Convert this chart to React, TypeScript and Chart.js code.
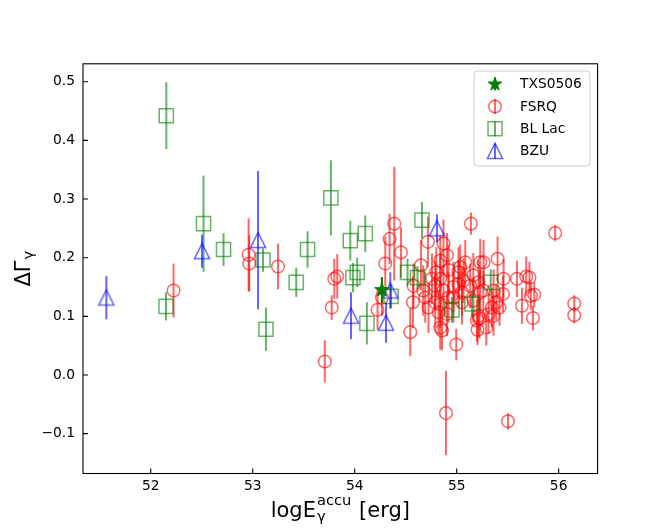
import React, { useEffect, useRef } from 'react';
import { Chart, registerables } from 'chart.js';

Chart.register(...registerables);

// ---------- data ----------
const xTickValues = [52, 53, 54, 55, 56];
const yTickValues = [-0.1, 0.0, 0.1, 0.2, 0.3, 0.4, 0.5];
const legendLabels = ['TXS0506', 'FSRQ', 'BL Lac', 'BZU'];

const txsX = [54.267];
const txsY = [0.145];
const txsErr = [0.022];

const fsrqX = [
  52.224, 52.960, 52.966, 53.248, 53.800, 53.829, 53.775, 53.707, 54.388, 54.342,
  54.454, 54.300, 54.267, 54.224, 54.545, 54.577, 54.571, 54.650, 54.718, 54.871,
  54.905, 54.839, 54.800, 54.758, 54.692, 54.724, 54.839, 54.856, 54.996, 54.905,
  54.969, 54.895, 55.503, 55.140, 55.966, 55.264, 55.401, 55.084, 55.035, 55.460,
  55.591, 55.682, 55.714, 55.454, 55.420, 55.388, 55.640, 55.728, 55.761, 55.748,
  56.153, 56.153, 55.290, 55.205, 55.224, 55.313, 55.346,
  54.790, 54.969, 55.067, 55.133, 55.214, 54.871, 55.052, 55.165, 54.822, 54.920,
  55.018, 55.261, 54.672, 55.163,
  55.231, 54.839, 55.018, 54.920, 55.052, 55.231, 55.362, 54.790, 55.214, 55.362,
  54.839, 55.199,
];
const fsrqY = [
  0.144, 0.205, 0.190, 0.185, 0.164, 0.168, 0.115, 0.023, 0.258, 0.232,
  0.209, 0.190, 0.132, 0.111, 0.073, 0.152, 0.124, 0.187, 0.227, 0.224,
  0.204, 0.195, 0.175, 0.164, 0.132, 0.115, 0.121, 0.076, 0.052, 0.104,
  0.150, -0.065, -0.079, 0.258, 0.242, 0.192, 0.198, 0.192, 0.184, 0.164,
  0.164, 0.168, 0.166, 0.138, 0.115, 0.124, 0.118, 0.135, 0.137, 0.097,
  0.122, 0.102, 0.081, 0.077, 0.096, 0.104, 0.115,
  0.152, 0.132, 0.161, 0.152, 0.158, 0.144, 0.124, 0.127, 0.107, 0.179,
  0.175, 0.144, 0.144, 0.170,
  0.192, 0.164, 0.155, 0.132, 0.141, 0.141, 0.144, 0.124, 0.101, 0.101,
  0.081, 0.093,
];
const fsrqErr = [
  0.046, 0.062, 0.048, 0.039, 0.034, 0.038, 0.021, 0.036, 0.097, 0.043,
  0.043, 0.046, 0.031, 0.034, 0.041, 0.038, 0.044, 0.043, 0.043, 0.041,
  0.038, 0.043, 0.043, 0.043, 0.043, 0.043, 0.041, 0.034, 0.027, 0.038,
  0.043, 0.072, 0.014, 0.019, 0.014, 0.038, 0.038, 0.038, 0.038, 0.034,
  0.031, 0.034, 0.027, 0.031, 0.031, 0.031, 0.031, 0.024, 0.021, 0.021,
  0.014, 0.014, 0.031, 0.026, 0.034, 0.034, 0.034,
  0.043, 0.043, 0.038, 0.038, 0.038, 0.043, 0.038, 0.038, 0.038, 0.043,
  0.043, 0.034, 0.043, 0.038,
  0.040, 0.043, 0.040, 0.043, 0.040, 0.038, 0.036, 0.043, 0.036, 0.034,
  0.038, 0.036,
];

const bllacX = [
  52.153, 52.518, 52.714, 52.150, 53.101, 53.130, 53.427, 53.538, 53.767, 53.957,
  54.104, 53.983, 54.025, 54.120, 54.356, 54.660, 54.518, 54.616, 54.954, 55.334, 55.150,
];
const bllacY = [
  0.442, 0.258, 0.214, 0.117, 0.196, 0.078, 0.158, 0.214, 0.302, 0.229,
  0.241, 0.166, 0.175, 0.088, 0.134, 0.264, 0.175, 0.166, 0.111, 0.158, 0.121,
];
const bllacErr = [
  0.057, 0.082, 0.028, 0.024, 0.020, 0.037, 0.025, 0.031, 0.064, 0.034,
  0.031, 0.025, 0.025, 0.036, 0.020, 0.031, 0.023, 0.020, 0.022, 0.022, 0.022,
];

const bzuX = [51.565, 52.503, 53.052, 53.964, 54.307, 54.349, 54.807];
const bzuY = [0.132, 0.211, 0.230, 0.101, 0.089, 0.144, 0.250];
const bzuErr = [0.037, 0.028, 0.118, 0.040, 0.034, 0.031, 0.024];

// ---------- styles ----------
const RED = 'rgba(255,0,0,0.6)';
const GREEN = 'rgba(0,128,0,0.6)';
const BLUE = 'rgba(0,0,255,0.6)';
const STAR = '#008000';
const FONT = '"DejaVu Sans", "Liberation Sans", sans-serif';

function toPoints(xs: number[], ys: number[]) {
  return xs.map((x, i) => ({ x, y: ys[i] }));
}

function trianglePath(g: CanvasRenderingContext2D, cx: number, cy: number, h: number) {
  g.beginPath();
  g.moveTo(cx, cy - h);
  g.lineTo(cx - h, cy + h);
  g.lineTo(cx + h, cy + h);
  g.closePath();
}

function starPath(g: CanvasRenderingContext2D, cx: number, cy: number, R: number) {
  g.beginPath();
  for (let i = 0; i < 10; i++) {
    const a = -Math.PI / 2 + (i * Math.PI) / 5;
    const r = i % 2 === 0 ? R : R * 0.382;
    const px = cx + r * Math.cos(a);
    const py = cy + r * Math.sin(a);
    if (i === 0) g.moveTo(px, py);
    else g.lineTo(px, py);
  }
  g.closePath();
}

function makeTriangle(): HTMLCanvasElement {
  const c = document.createElement('canvas');
  c.width = 20;
  c.height = 20;
  const g = c.getContext('2d')!;
  g.strokeStyle = BLUE;
  g.lineWidth = 1.5;
  trianglePath(g, 10, 10, 7.6);
  g.stroke();
  return c;
}

function makeStar(): HTMLCanvasElement {
  const c = document.createElement('canvas');
  c.width = 20;
  c.height = 20;
  const g = c.getContext('2d')!;
  g.fillStyle = STAR;
  g.strokeStyle = STAR;
  g.lineWidth = 1;
  starPath(g, 10, 10, 7.6);
  g.fill();
  g.stroke();
  return c;
}

const decorPlugin = {
  id: 'decor',
  beforeDatasetDraw(chart: any, args: any) {
    const ds = chart.data.datasets[args.index];
    const errs: number[] | undefined = ds.errY;
    if (!errs) return;
    const ctx: CanvasRenderingContext2D = chart.ctx;
    const xs = chart.scales.x;
    const ys = chart.scales.y;
    ctx.save();
    ctx.strokeStyle = ds.barColor;
    ctx.lineWidth = 2;
    ds.data.forEach((p: any, i: number) => {
      const px = xs.getPixelForValue(p.x);
      const y1 = ys.getPixelForValue(p.y - errs[i]);
      const y2 = ys.getPixelForValue(p.y + errs[i]);
      ctx.beginPath();
      ctx.moveTo(px, y1);
      ctx.lineTo(px, y2);
      ctx.stroke();
    });
    ctx.restore();
  },
  afterDraw(chart: any) {
    const ctx: CanvasRenderingContext2D = chart.ctx;
    const a = chart.chartArea;
    const xs = chart.scales.x;
    const ys = chart.scales.y;
    ctx.save();
    // frame
    ctx.strokeStyle = '#000';
    ctx.lineWidth = 1.1;
    ctx.strokeRect(a.left, a.top, a.right - a.left, a.bottom - a.top);
    // inward ticks
    ctx.beginPath();
    xTickValues.forEach((v) => {
      const px = xs.getPixelForValue(v);
      ctx.moveTo(px, a.bottom);
      ctx.lineTo(px, a.bottom - 5);
    });
    yTickValues.forEach((v) => {
      const py = ys.getPixelForValue(v);
      ctx.moveTo(a.left, py);
      ctx.lineTo(a.left + 5, py);
    });
    ctx.stroke();

    // x axis title: logE_γ^accu [erg]
    ctx.fillStyle = '#000';
    const big = `21px ${FONT}`;
    const small = `14.7px ${FONT}`;
    ctx.textBaseline = 'alphabetic';
    ctx.textAlign = 'left';
    ctx.font = big;
    const wMain = ctx.measureText('logE').width;
    const wRest = ctx.measureText(' [erg]').width;
    ctx.font = small;
    const wSup = ctx.measureText('accu').width;
    const wSub = ctx.measureText('γ').width;
    const wScript = Math.max(wSup, wSub) + 1;
    const total = wMain + 1 + wScript + wRest;
    const cx = (a.left + a.right) / 2;
    let x0 = cx - total / 2;
    const base = 517;
    ctx.font = big;
    ctx.fillText('logE', x0, base);
    x0 += wMain + 1;
    ctx.font = small;
    ctx.fillText('accu', x0, base - 12);
    ctx.fillText('γ', x0, base + 4);
    x0 += wScript;
    ctx.font = big;
    ctx.fillText(' [erg]', x0, base);

    // y axis title: ΔΓ_γ
    ctx.save();
    const cy = (a.top + a.bottom) / 2;
    ctx.translate(30, cy);
    ctx.rotate(-Math.PI / 2);
    ctx.font = big;
    const wD = ctx.measureText('ΔΓ').width;
    ctx.font = small;
    const wG = ctx.measureText('γ').width;
    const tot2 = wD + 1 + wG;
    ctx.font = big;
    ctx.fillText('ΔΓ', -tot2 / 2, 0);
    ctx.font = small;
    ctx.fillText('γ', -tot2 / 2 + wD + 1, 3);
    ctx.restore();

    // legend
    const lx = 474;
    const ly = 71;
    const lw = 116;
    const lh = 95;
    ctx.beginPath();
    if ((ctx as any).roundRect) (ctx as any).roundRect(lx, ly, lw, lh, 3);
    else ctx.rect(lx, ly, lw, lh);
    ctx.fillStyle = 'rgba(255,255,255,0.8)';
    ctx.fill();
    ctx.strokeStyle = '#cccccc';
    ctx.lineWidth = 1;
    ctx.stroke();

    const mx = 495;
    legendLabels.forEach((label, i) => {
      const ry = 84.3 + i * 22.2;
      ctx.save();
      if (i === 0) {
        ctx.fillStyle = STAR;
        ctx.strokeStyle = STAR;
        ctx.lineWidth = 2;
        ctx.beginPath();
        ctx.moveTo(mx, ry - 6);
        ctx.lineTo(mx, ry + 6);
        ctx.stroke();
        ctx.lineWidth = 1;
        starPath(ctx, mx, ry, 7.2);
        ctx.fill();
        ctx.stroke();
      } else {
        const col = i === 1 ? RED : i === 2 ? GREEN : BLUE;
        ctx.strokeStyle = col;
        ctx.lineWidth = 2;
        ctx.beginPath();
        ctx.moveTo(mx, ry - 7.5);
        ctx.lineTo(mx, ry + 7.5);
        ctx.stroke();
        ctx.lineWidth = 1.5;
        if (i === 1) {
          ctx.beginPath();
          ctx.arc(mx, ry, 6.2, 0, Math.PI * 2);
          ctx.stroke();
        } else if (i === 2) {
          ctx.strokeRect(mx - 7, ry - 7, 14, 14);
        } else {
          trianglePath(ctx, mx, ry, 7.6);
          ctx.stroke();
        }
      }
      ctx.restore();
      ctx.fillStyle = '#000';
      ctx.font = `13.8px ${FONT}`;
      ctx.textBaseline = 'middle';
      ctx.textAlign = 'left';
      ctx.fillText(label, 520, ry + 0.5);
    });
    ctx.restore();
  },
};

export default function App() {
  const ref = useRef<HTMLCanvasElement | null>(null);

  useEffect(() => {
    if (!ref.current) return;
    const tri = makeTriangle();
    const star = makeStar();

    const datasets: any[] = [
      {
        label: 'TXS0506',
        data: toPoints(txsX, txsY),
        errY: txsErr,
        barColor: STAR,
        pointStyle: star,
        pointRadius: 8,
        backgroundColor: STAR,
        borderColor: STAR,
      },
      {
        label: 'BZU',
        data: toPoints(bzuX, bzuY),
        errY: bzuErr,
        barColor: BLUE,
        pointStyle: tri,
        pointRadius: 8,
        backgroundColor: 'rgba(0,0,0,0)',
        borderColor: BLUE,
      },
      {
        label: 'BL Lac',
        data: toPoints(bllacX, bllacY),
        errY: bllacErr,
        barColor: GREEN,
        pointStyle: 'rect',
        pointRadius: 10,
        pointBorderWidth: 1.5,
        backgroundColor: 'rgba(0,0,0,0)',
        borderColor: GREEN,
      },
      {
        label: 'FSRQ',
        data: toPoints(fsrqX, fsrqY),
        errY: fsrqErr,
        barColor: RED,
        pointStyle: 'circle',
        pointRadius: 6.3,
        pointBorderWidth: 1.5,
        backgroundColor: 'rgba(0,0,0,0)',
        borderColor: RED,
      },
    ];

    const chart = new Chart(ref.current, {
      type: 'scatter',
      data: { datasets },
      options: {
        animation: false,
        responsive: false,
        maintainAspectRatio: false,
        events: [],
        layout: { padding: { left: 0, right: 66.4, top: 63.8, bottom: 0 } },
        plugins: {
          legend: { display: false },
          tooltip: { enabled: false },
        },
        scales: {
          x: {
            type: 'linear',
            min: 51.336,
            max: 56.382,
            grid: { display: false, drawTicks: false },
            border: { display: false },
            afterBuildTicks: (s: any) => {
              s.ticks = xTickValues.map((v) => ({ value: v }));
            },
            afterFit: (s: any) => {
              s.height = 58.5;
            },
            ticks: {
              autoSkip: false,
              maxRotation: 0,
              padding: 5,
              color: '#000',
              font: { family: FONT, size: 13.8 },
              callback: (v: any) => String(v),
            },
          },
          y: {
            type: 'linear',
            min: -0.168,
            max: 0.5306,
            grid: { display: false, drawTicks: false },
            border: { display: false },
            afterBuildTicks: (s: any) => {
              s.ticks = yTickValues.map((v) => ({ value: v }));
            },
            afterFit: (s: any) => {
              s.width = 83;
            },
            ticks: {
              autoSkip: false,
              padding: 8,
              color: '#000',
              font: { family: FONT, size: 13.8 },
              callback: (v: any) => Number(v).toFixed(1).replace('-', '\u2212'),
            },
          },
        },
      } as any,
      plugins: [decorPlugin as any],
    });

    return () => chart.destroy();
  }, []);

  return (
    <div style={{ position: 'absolute', left: 0, top: 0, width: 664, height: 532, background: '#fff' }}>
      <canvas ref={ref} width={664} height={532} style={{ display: 'block', width: 664, height: 532 }} />
    </div>
  );
}
